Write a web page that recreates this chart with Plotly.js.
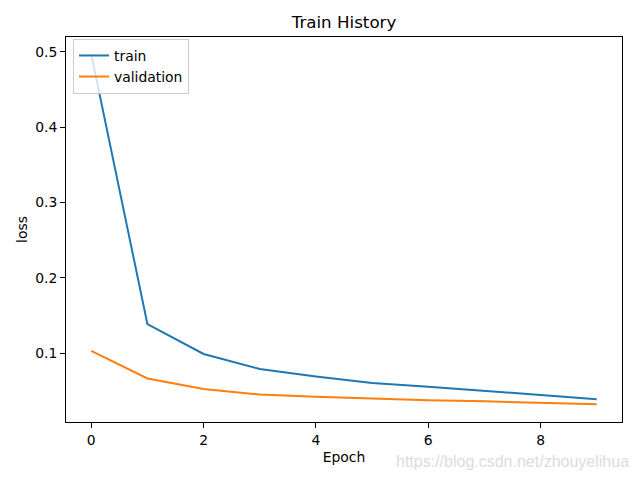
<!DOCTYPE html>
<html>
<head>
<meta charset="utf-8">
<script src="https://cdn.plot.ly/plotly-3.0.1.min.js"></script>
<style>html,body{margin:0;padding:0;background:#fff;}#chart{width:640px;height:480px;}</style>
</head>
<body>
<div id="chart"></div>
<script>
const epochs = [0, 1, 2, 3, 4, 5, 6, 7, 8, 9];
const trainLoss = [0.4965, 0.1384, 0.0989, 0.0790, 0.0690, 0.0605, 0.0555, 0.0505, 0.0445, 0.0388];
const valLoss = [0.1030, 0.0663, 0.0525, 0.0450, 0.0420, 0.0394, 0.0376, 0.0360, 0.0339, 0.0321];
const seriesNames = ['train', 'validation'];

const font = {family: 'DejaVu Sans', size: 13.9, color: '#000'};

const traces = [
  {x: epochs, y: trainLoss, name: seriesNames[0], type: 'scatter', mode: 'lines',
   line: {color: '#1f77b4', width: 2}},
  {x: epochs, y: valLoss, name: seriesNames[1], type: 'scatter', mode: 'lines',
   line: {color: '#ff7f0e', width: 2}}
];

const layout = {
  width: 640, height: 480,
  margin: {l: 66, r: 18, t: 37, b: 58},
  paper_bgcolor: '#fff', plot_bgcolor: '#fff',
  font: font,
  title: {text: 'Train History', font: {family: 'DejaVu Sans', size: 16.7, color: '#000'},
          x: 0.5, xref: 'paper', xanchor: 'center', y: 1, yref: 'container', yanchor: 'top', pad: {t: 16}},
  xaxis: {
    range: [-0.45, 9.45], tick0: 0, dtick: 2, showgrid: false, zeroline: false,
    showline: true, linecolor: '#000', linewidth: 1, mirror: true,
    ticks: 'outside', ticklen: 5, tickwidth: 1, tickcolor: '#000',
    tickfont: font,
    title: {text: 'Epoch', font: font, standoff: 5}
  },
  yaxis: {
    range: [0.0086, 0.5195], tick0: 0, dtick: 0.1, tickformat: '.1f', showgrid: false, zeroline: false,
    showline: true, linecolor: '#000', linewidth: 1, mirror: true,
    ticks: 'outside', ticklen: 5, tickwidth: 1, tickcolor: '#000',
    tickfont: font,
    title: {text: 'loss', font: font, standoff: 4}
  },
  showlegend: true,
  legend: {x: 0.0126, y: 0.995, xanchor: 'left', yanchor: 'top',
           bgcolor: 'rgba(255,255,255,0.8)', bordercolor: '#cccccc', borderwidth: 1,
           font: font, tracegroupgap: 0},
  annotations: [
    {text: 'https://blog.csdn.net/zhouyelihua', xref: 'paper', yref: 'paper',
     x: 1.016, y: -0.102, xanchor: 'right', yanchor: 'middle', showarrow: false,
     font: {family: 'Liberation Sans', size: 16, color: '#dcdcdc'}}
  ]
};

Plotly.newPlot('chart', traces, layout, {displayModeBar: false, staticPlot: true});
</script>
</body>
</html>
